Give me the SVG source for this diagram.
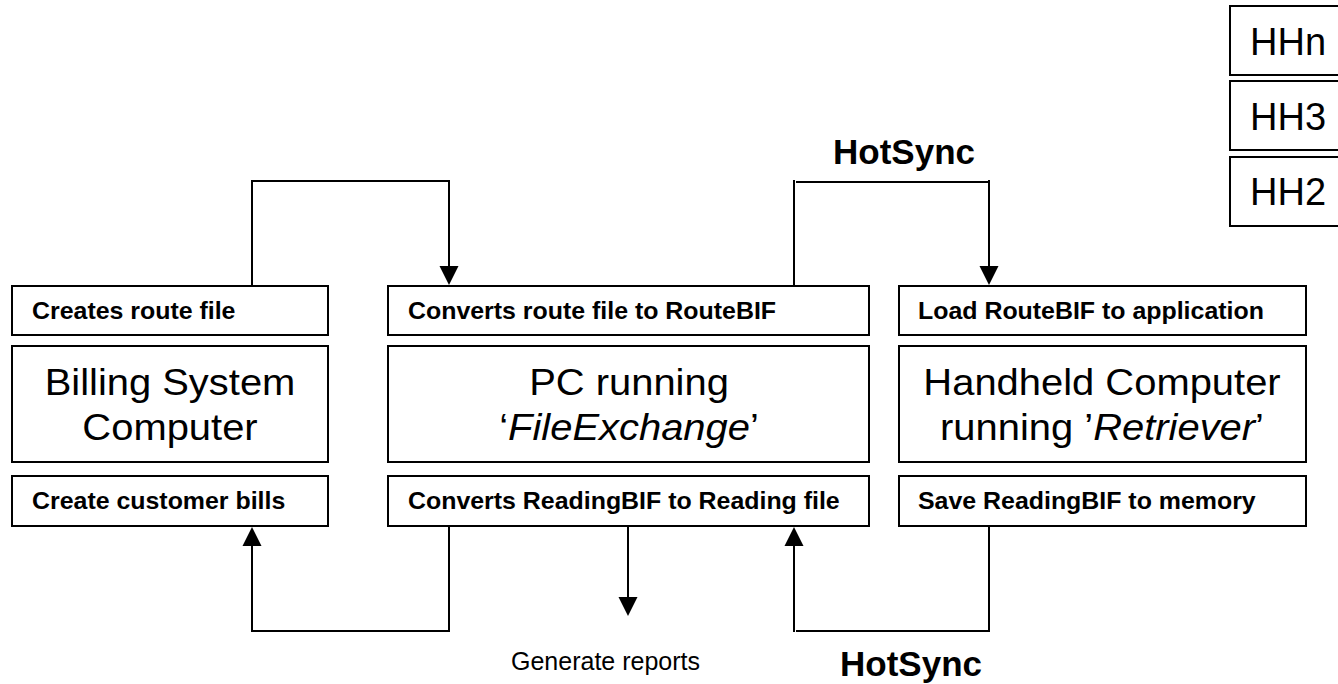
<svg xmlns="http://www.w3.org/2000/svg" width="1338" height="684" viewBox="0 0 1338 684">
<style>
text{font-family:"Liberation Sans",Arial,sans-serif;fill:#000}
.b{fill:#fff;stroke:#000;stroke-width:2}
.s{font-size:23px;font-weight:bold}
.l{font-size:37.500px;text-anchor:middle}
.t{font-size:38px}
.h{font-size:35px;font-weight:bold;text-anchor:middle}
.c{fill:none;stroke:#000;stroke-width:2}
.a{fill:#000;stroke:none}
</style>
<rect width="1338" height="684" fill="#fff"/>
<g id="connectors">
<path class="c" d="M252 286V181H449V268"/>
<path class="a" d="M449 285l-9.500-19h19z"/>
<path class="c" d="M794 286V180M796 182H989M989 180V268"/>
<path class="a" d="M989 285l-9.500-19h19z"/>
<path class="c" d="M449 526V631H252V544"/>
<path class="a" d="M252 527l-9.500 19h19z"/>
<path class="c" d="M628 526V598"/>
<path class="a" d="M628 616l-9.500-19h19z"/>
<path class="c" d="M989 526V631H796M794 632V544"/>
<path class="a" d="M794 527l-9.500 19h19z"/>
</g>
<g id="creates-route"><rect class="b" x="12" y="286" width="316" height="49"/><text class="s" transform="translate(32 318.500) scale(1.083 1)">Creates route file</text></g>
<g id="billing"><rect class="b" x="12" y="346" width="316" height="116"/><text class="l" transform="translate(170 394.500) scale(1.065 1)">Billing System</text><text class="l" transform="translate(170 439.500) scale(1.065 1)">Computer</text></g>
<g id="create-bills"><rect class="b" x="12" y="476" width="316" height="50"/><text class="s" transform="translate(32 508.500) scale(1.083 1)">Create customer bills</text></g>
<g id="converts-route"><rect class="b" x="388" y="286" width="481" height="49"/><text class="s" transform="translate(408 318.500) scale(1.083 1)">Converts route file to RouteBIF</text></g>
<g id="pc"><rect class="b" x="388" y="346" width="481" height="116"/><text class="l" transform="translate(629 394.500) scale(1.065 1)">PC running</text><text class="l" transform="translate(629 439.500) scale(1.065 1)">‘<tspan font-style="italic">FileExchange</tspan>’</text></g>
<g id="converts-reading"><rect class="b" x="388" y="476" width="481" height="50"/><text class="s" transform="translate(408 508.500) scale(1.083 1)">Converts ReadingBIF to Reading file</text></g>
<g id="load"><rect class="b" x="899" y="286" width="407" height="49"/><text class="s" transform="translate(918 318.500) scale(1.083 1)">Load RouteBIF to application</text></g>
<g id="handheld"><rect class="b" x="899" y="346" width="407" height="116"/><text class="l" transform="translate(1102 394.500) scale(1.065 1)">Handheld Computer</text><text class="l" transform="translate(1102 439.500) scale(1.065 1)">running ’<tspan font-style="italic">Retriever</tspan>’</text></g>
<g id="save"><rect class="b" x="899" y="476" width="407" height="50"/><text class="s" transform="translate(918 508.500) scale(1.083 1)">Save ReadingBIF to memory</text></g>
<g id="hhn"><rect class="b" x="1230" y="6" width="120" height="69"/><text class="t" x="1250" y="54.500">HHn</text></g>
<g id="hh3"><rect class="b" x="1230" y="81" width="120" height="69"/><text class="t" x="1250" y="129.500">HH3</text></g>
<g id="hh2"><rect class="b" x="1230" y="157" width="120" height="69"/><text class="t" x="1250" y="204.500">HH2</text></g>
<text class="h" x="904" y="164">HotSync</text>
<text class="h" x="911" y="676">HotSync</text>
<text x="511" y="670" font-size="25">Generate reports</text>
</svg>
